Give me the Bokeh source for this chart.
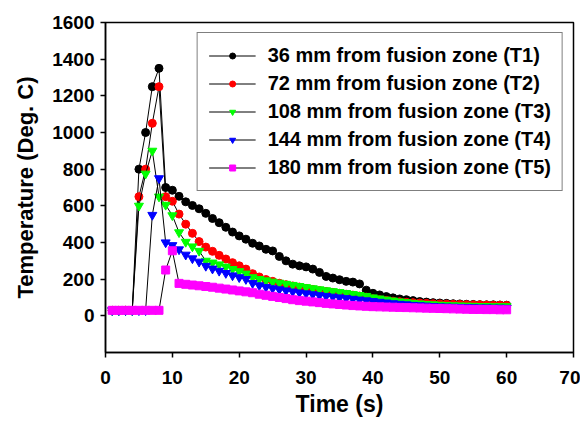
from bokeh.plotting import figure
from bokeh.models import FixedTicker, Legend, LegendItem, Range1d
from bokeh.embed import file_html
from bokeh.resources import INLINE

time_s = list(range(1, 61))

t1 = [30, 30, 30, 30, 800, 1000, 1250, 1350, 700, 685,
      652, 622, 602, 584, 559, 531, 508, 483, 457, 436,
      418, 396, 381, 363, 354, 324, 300, 282, 273, 267,
      255, 237, 215, 206, 197, 188, 184, 174, 140, 123,
      114, 105, 98, 92, 88, 83, 78, 75, 72, 70,
      68, 66, 65, 63, 62, 61, 60, 60, 59, 58]
t2 = [30, 30, 30, 30, 650, 800, 1050, 1250, 650, 625,
      555, 500, 450, 405, 375, 352, 330, 310, 290, 273,
      255, 230, 212, 198, 188, 178, 170, 163, 157, 150,
      144, 138, 133, 128, 123, 118, 113, 108, 102, 93,
      88, 84, 80, 77, 74, 72, 70, 68, 66, 65,
      64, 63, 62, 61, 60, 60, 59, 58, 58, 57]
t3 = [30, 30, 30, 30, 600, 775, 900, 650, 605, 548,
      455, 403, 378, 354, 300, 290, 280, 268, 255, 243,
      230, 210, 200, 193, 186, 180, 174, 168, 162, 156,
      150, 144, 139, 134, 129, 124, 118, 113, 108, 100,
      94, 88, 83, 78, 74, 70, 67, 64, 62, 60,
      58, 57, 56, 55, 54, 53, 53, 52, 52, 52]
t4 = [30, 30, 30, 30, 30, 30, 550, 750, 400, 385,
      362, 333, 313, 295, 272, 257, 245, 233, 220, 210,
      200, 178, 166, 157, 150, 144, 138, 132, 127, 122,
      117, 112, 108, 104, 100, 96, 92, 88, 84, 80,
      76, 72, 68, 65, 62, 59, 57, 55, 53, 51,
      50, 49, 48, 47, 46, 45, 45, 44, 44, 43]
t5 = [30, 30, 30, 30, 30, 30, 30, 30, 250, 355,
      177, 172, 168, 164, 160, 156, 151, 146, 141, 136,
      131, 126, 118, 112, 106, 100, 94, 88, 83, 80,
      76, 72, 68, 65, 62, 59, 56, 54, 52, 50,
      49, 48, 47, 46, 45, 44, 43, 42, 41, 40,
      39, 38, 37, 36, 35, 35, 34, 34, 33, 33]

labels = ["36 mm from fusion zone (T1)", "72 mm from fusion zone (T2)",
          "108 mm from fusion zone (T3)", "144 mm from fusion zone (T4)",
          "180 mm from fusion zone (T5)"]
colors = ["#000000", "#ff0000", "#00ff00", "#0000ff", "#ff00ff"]
markers = ["circle", "circle", "inverted_triangle", "inverted_triangle", "square"]
sizes = [8, 8, 9, 9, 8]
x_ticks = [0, 10, 20, 30, 40, 50, 60, 70]
y_ticks = [0, 200, 400, 600, 800, 1000, 1200, 1400, 1600]

FONT = "Liberation Sans"

p = figure(width=580, height=424, output_backend="svg", toolbar_location=None,
           x_range=Range1d(0, 70), y_range=Range1d(-200, 1600),
           min_border_left=105, min_border_right=7, min_border_top=22, min_border_bottom=72)
p.xgrid.visible = False
p.ygrid.visible = False
p.outline_line_color = "black"
p.outline_line_width = 1.5
p.background_fill_color = "white"
p.border_fill_color = "white"

items = []
for ys, lab, c, m, s in zip([t1, t2, t3, t4, t5], labels, colors, markers, sizes):
    ln = p.line(time_s, ys, line_color="black", line_width=1)
    sc = p.scatter(time_s, ys, marker=m, size=s, fill_color=c, line_color=c)
    items.append(LegendItem(label=lab, renderers=[ln, sc]))

legend = Legend(items=items, location="top_right", margin=10,
                label_text_font=FONT, label_text_font_style="bold",
                label_text_font_size="20px", label_text_color="black",
                glyph_width=47, glyph_height=15, label_height=20, label_standoff=12,
                spacing=5, padding=11, border_line_color="black",
                border_line_width=1, background_fill_alpha=1)
p.add_layout(legend)

for ax in [p.xaxis[0], p.yaxis[0]]:
    ax.axis_line_color = "black"
    ax.axis_line_width = 1.5
    ax.major_tick_line_color = "black"
    ax.major_tick_line_width = 1.5
    ax.major_tick_in = 0
    ax.major_tick_out = 5
    ax.minor_tick_line_color = None
    ax.major_label_text_font = FONT
    ax.major_label_text_font_style = "bold"
    ax.major_label_text_font_size = "19px"
    ax.major_label_text_color = "black"
    ax.axis_label_text_font = FONT
    ax.axis_label_text_font_style = "bold"
    ax.axis_label_text_color = "black"

p.xaxis.axis_label_text_font_size = "23px"
p.yaxis.axis_label_text_font_size = "22px"
p.xaxis.ticker = FixedTicker(ticks=x_ticks)
p.yaxis.ticker = FixedTicker(ticks=y_ticks)
p.xaxis.axis_label = "Time (s)"
p.yaxis.axis_label = "Temperature (Deg. C)"
p.xaxis.major_label_standoff = 13
p.yaxis.major_label_standoff = 6
p.xaxis.axis_label_standoff = 4
p.yaxis.axis_label_standoff = 11

open("out.html", "w").write(file_html(p, INLINE))
